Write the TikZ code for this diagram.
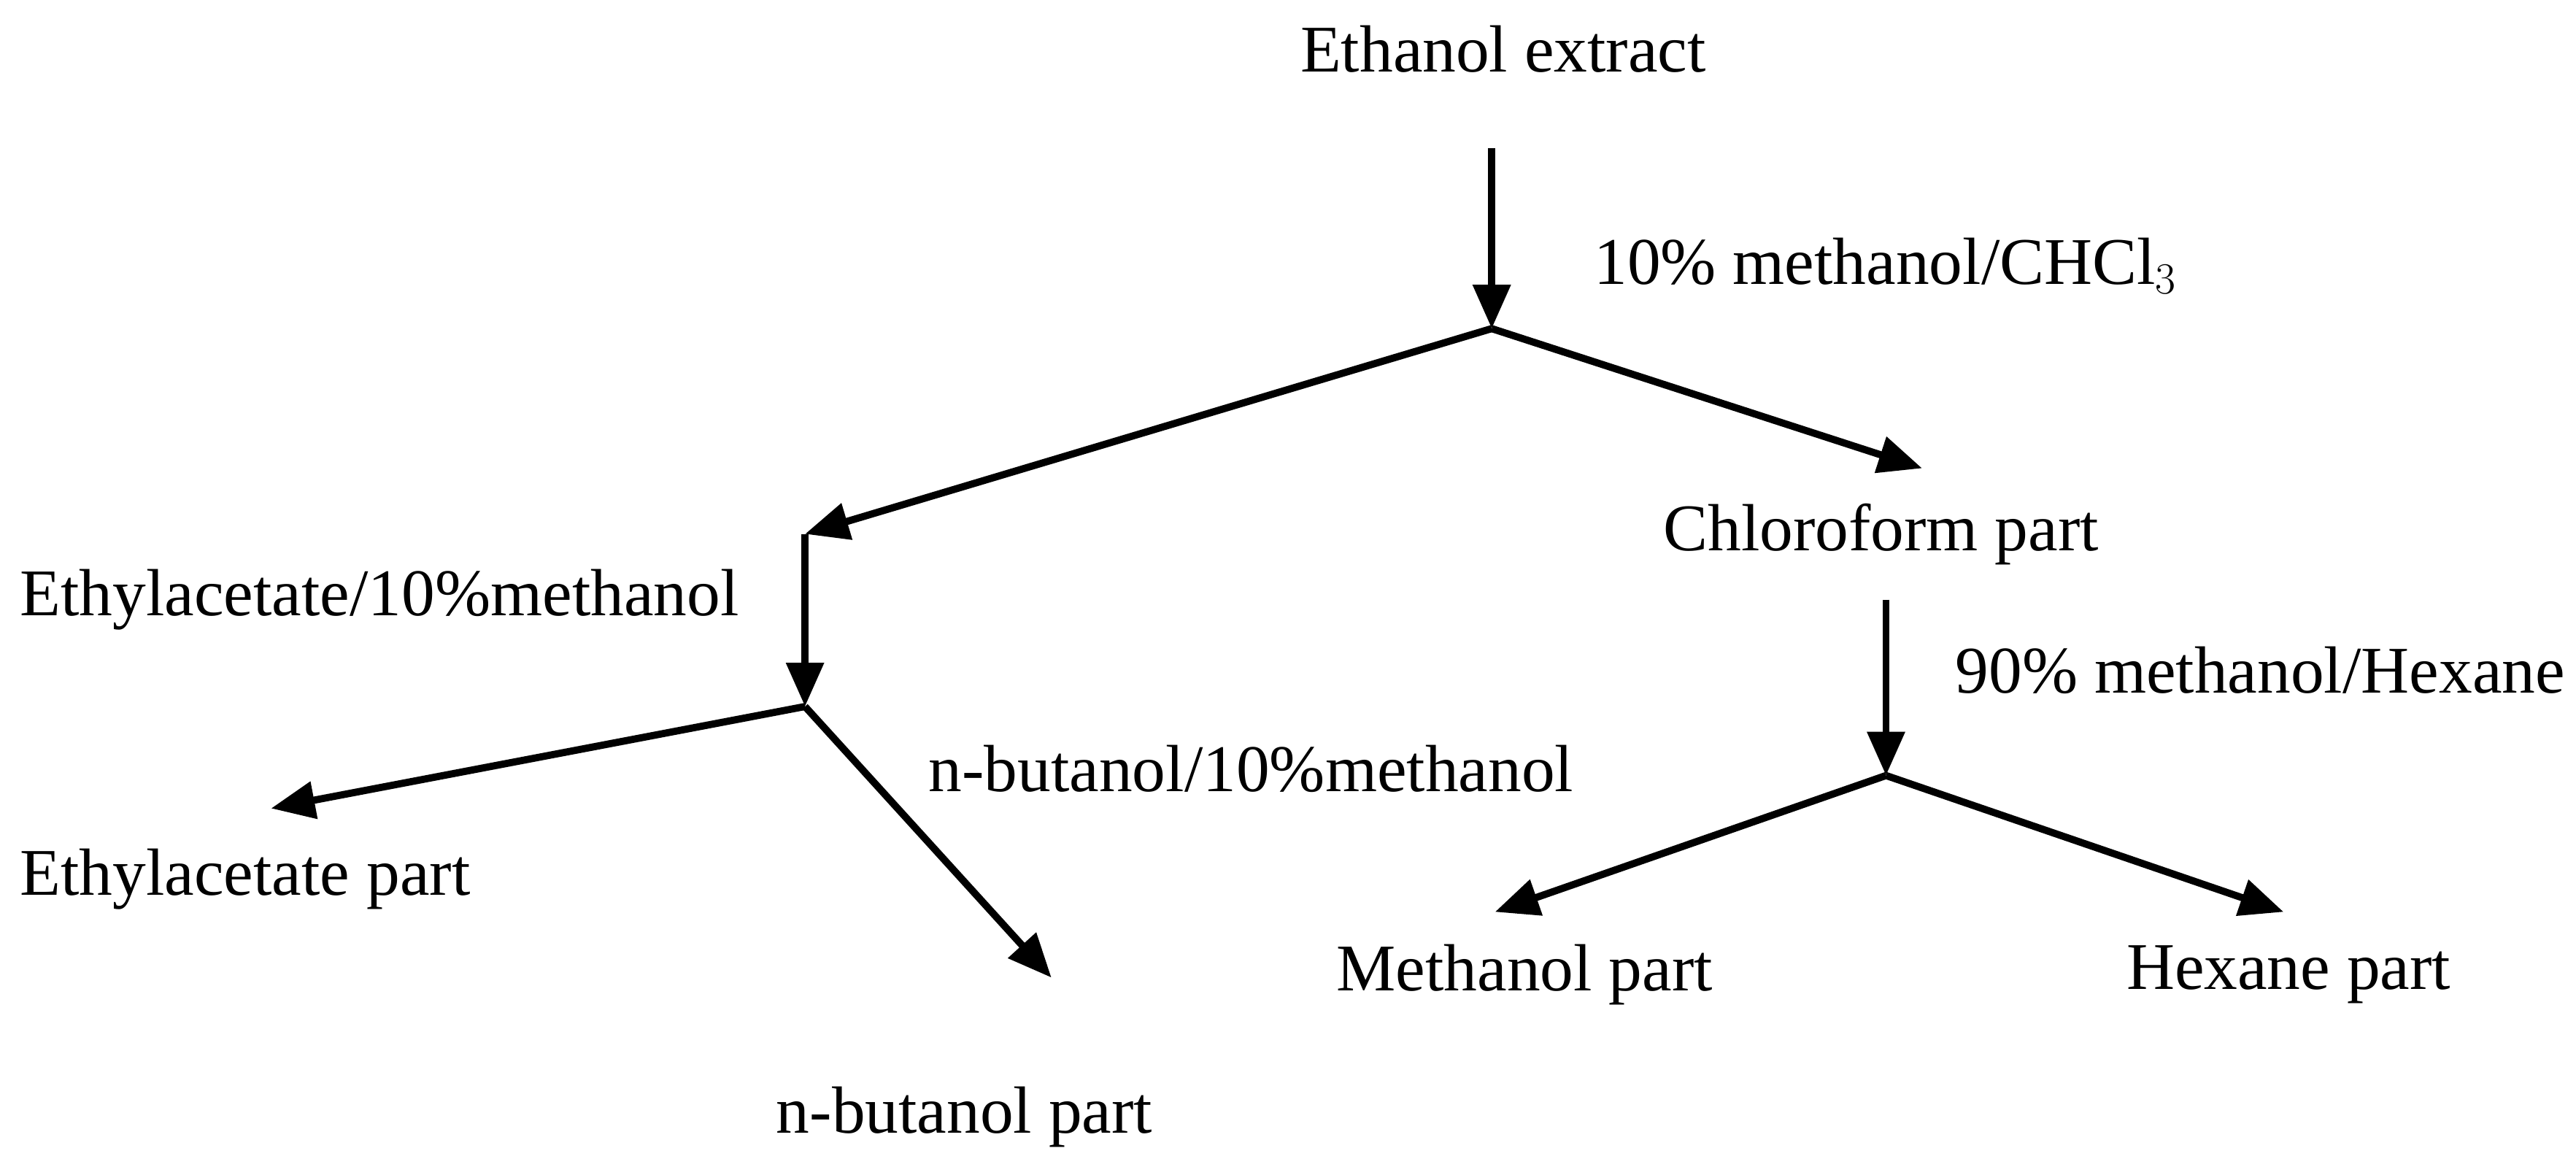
\documentclass[tikz,border=0pt]{standalone}
\usepackage{fontspec}
\setmainfont{Liberation Serif}
\usetikzlibrary{arrows.meta}
\begin{document}
\begin{tikzpicture}[x=0.0225cm,y=-0.0225cm,
  lbl/.style={font=\fontsize{26}{29}\selectfont,inner sep=0pt},
  arr/.style={line width=2.8pt,-{Triangle[length=0.6cm,width=0.5cm]}},
  ln/.style={line width=2.8pt}]
\useasboundingbox (0,0) rectangle (1568,710);
\node[lbl] (ee) at (915,30) {Ethanol extract};
\coordinate (ees) at (908,90);
\coordinate (b1) at (908,200);
\node[lbl,anchor=west] (l1) at (970,162) {10\% methanol/CHCl$_3$};
\coordinate (lc) at (490,325);
\coordinate (rc) at (1170,285);
\node[lbl] (cp) at (1145,325) {Chloroform part};
\coordinate (b2) at (490,430);
\node[lbl,anchor=west] (l2) at (12,365) {Ethylacetate/10\%methanol};
\node[lbl,anchor=west] (l3) at (565,468) {n-butanol/10\%methanol};
\coordinate (ea) at (165,492);
\coordinate (nb) at (640,595);
\node[lbl,anchor=west] (eap) at (12,535) {Ethylacetate part};
\node[lbl] (nbp) at (587,680) {n-butanol part};
\coordinate (cs) at (1148,365);
\coordinate (b3) at (1148,472);
\node[lbl,anchor=west] (l4) at (1190,408) {90\% methanol/Hexane};
\coordinate (mp) at (910,555);
\coordinate (hp) at (1390,555);
\node[lbl] (mpt) at (928,593) {Methanol part};
\node[lbl] (hpt) at (1393,593) {Hexane part};
\draw[arr] (ees) -- (b1);
\draw[arr] (b1) -- (lc);
\draw[arr] (b1) -- (rc);
\draw[arr] (lc) -- (b2);
\draw[arr] (b2) -- (ea);
\draw[arr] (b2) -- (nb);
\draw[arr] (cs) -- (b3);
\draw[arr] (b3) -- (mp);
\draw[arr] (b3) -- (hp);
\end{tikzpicture}
\end{document}
